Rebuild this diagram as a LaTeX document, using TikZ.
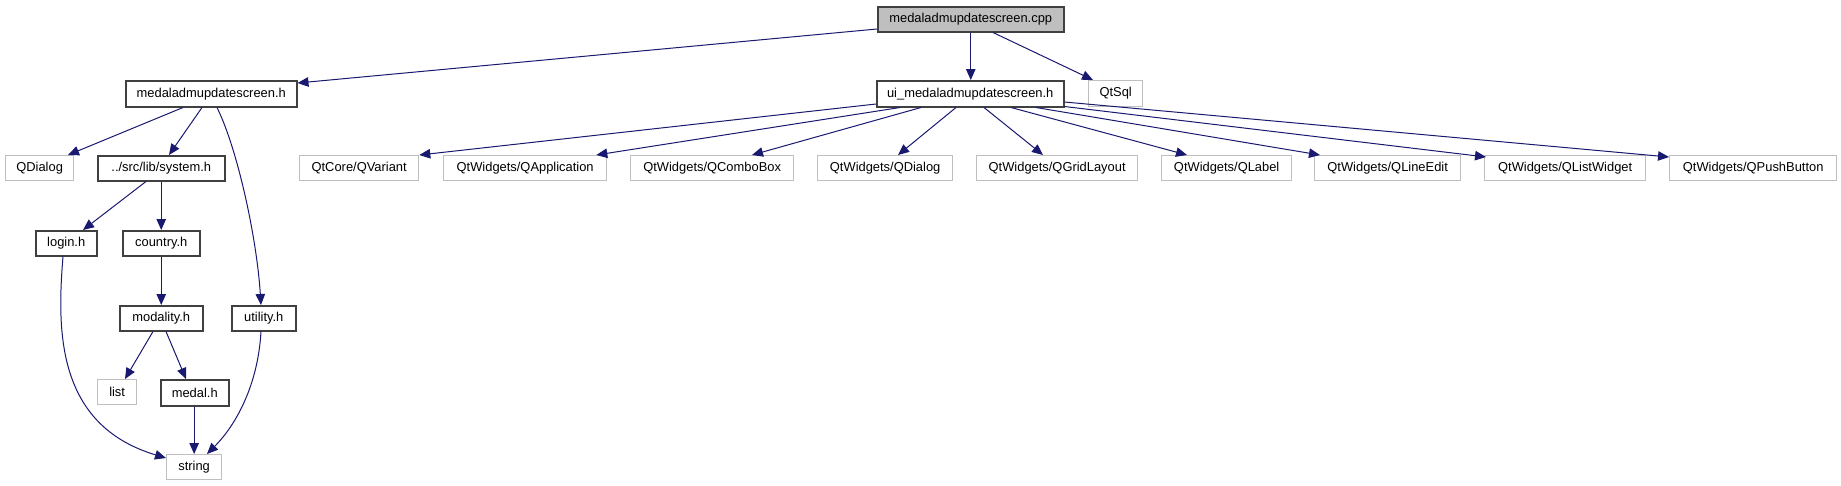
\documentclass[tikz,border=0pt]{standalone}
\usepackage{fontspec}
\setmainfont{Liberation Sans}
\usetikzlibrary{arrows.meta,calc}
\definecolor{edgec}{HTML}{191970}
\definecolor{grayb}{HTML}{BFBFBF}
\tikzset{
  box/.style={draw=black!75, line width=1.5pt, fill=white, inner sep=0pt, font=\fontsize{12.9}{14}\selectfont, anchor=north west},
  extbox/.style={box, draw=grayb, line width=1.3pt},
  rootbox/.style={box, fill=grayb},
  dep/.style={draw=edgec, line width=1pt, -{Triangle[length=11pt,width=9.5pt]}},
}
\newcommand{\bx}[7]{\node[#1, minimum width=#5pt, minimum height=#6pt] (#2) at (#3pt,-#4pt) {#7};}
\begin{document}
\begin{tikzpicture}[x=1pt,y=-1pt]
\useasboundingbox (0,0) rectangle (1841,485);
% nodes: style, name, left, top, width, height, text
\bx{rootbox}{cpp}{877}{6}{186}{25}{medaladmupdatescreen.cpp}
\bx{box}{mh}{125}{80}{171}{26}{medaladmupdatescreen.h}
\bx{box}{ui}{876}{80}{187}{26}{ui\_medaladmupdatescreen.h}
\bx{extbox}{qtsql}{1088}{80}{54}{26}{QtSql}
\bx{extbox}{qdialog}{5}{155}{68}{25}{QDialog}
\bx{box}{sys}{97}{155}{127}{25}{../src/lib/system.h}
\bx{extbox}{qvar}{299}{155}{119}{25}{QtCore/QVariant}
\bx{extbox}{qapp}{443}{155}{163}{25}{QtWidgets/QApplication}
\bx{extbox}{qcombo}{630}{155}{163}{25}{QtWidgets/QComboBox}
\bx{extbox}{qwdialog}{817}{155}{135}{25}{QtWidgets/QDialog}
\bx{extbox}{qgrid}{976}{155}{161}{25}{QtWidgets/QGridLayout}
\bx{extbox}{qlabel}{1161}{155}{130}{25}{QtWidgets/QLabel}
\bx{extbox}{qline}{1314}{155}{146}{25}{QtWidgets/QLineEdit}
\bx{extbox}{qlist}{1484}{155}{161}{25}{QtWidgets/QListWidget}
\bx{extbox}{qpush}{1669}{155}{167}{25}{QtWidgets/QPushButton}
\bx{box}{login}{35}{230}{61}{25}{login.h}
\bx{box}{country}{122}{230}{77}{25}{country.h}
\bx{box}{modality}{119}{305}{83}{25}{modality.h}
\bx{box}{utility}{231}{305}{64}{25}{utility.h}
\bx{extbox}{list}{97}{379}{39}{25}{list}
\bx{box}{medal}{160}{379}{68}{26}{medal.h}
\bx{extbox}{string}{166}{454}{55}{25}{string}
% edges
\draw[dep] ($(cpp.north west)+(0,23)$) -- ($(mh.north east)+(0,3)$);
\draw[dep] (cpp.south) -- (cpp.south |- ui.north);
\draw[dep] ($(cpp.south west)+(116,0)$) -- ($(qtsql.north west)+(5,0)$);
\draw[dep] ($(mh.south west)+(58,0)$) -- ($(qdialog.north west)+(63,0)$);
\draw[dep] ($(mh.south west)+(77,0)$) -- ($(sys.north west)+(72,0)$);
\draw[dep] ($(mh.south west)+(92,0)$) .. controls (238,150) and (257,240) .. ($(utility.north west)+(30,0)$);
\draw[dep] ($(sys.south west)+(49,0)$) -- ($(login.north west)+(48,0)$);
\draw[dep] (sys.south -| country.north) -- (country.north);
\draw[dep] (country.south) -- (country.south |- modality.north);
\draw[dep] ($(modality.south west)+(34,0)$) -- ($(list.north west)+(28,0)$);
\draw[dep] ($(modality.south west)+(47,0)$) -- ($(medal.north west)+(26,0)$);
\draw[dep] (medal.south -| string.north) -- (string.north);
\draw[dep] ($(utility.south west)+(30,0)$) .. controls (258,385) and (236,425) .. ($(string.north west)+(41,0)$);
\draw[dep] ($(login.south west)+(28,0)$) .. controls (57,330) and (56,425) .. ($(string.north west)+(0,4)$);
\draw[dep] ($(ui.north west)+(0,24)$) -- (qvar.north east);
\draw[dep] ($(ui.south west)+(24,0)$) -- ($(qapp.north east)+(-11,0)$);
\draw[dep] ($(ui.south west)+(45,0)$) -- ($(qcombo.north west)+(122,0)$);
\draw[dep] ($(ui.south west)+(80,0)$) -- ($(qwdialog.north west)+(81,0)$);
\draw[dep] ($(ui.south west)+(108,0)$) -- ($(qgrid.north west)+(67,0)$);
\draw[dep] ($(ui.south west)+(135,0)$) -- ($(qlabel.north west)+(26,0)$);
\draw[dep] ($(ui.south west)+(160,0)$) -- ($(qline.north west)+(6,0)$);
\draw[dep] ($(ui.south east)+(0,-1)$) -- ($(qlist.north west)+(2,2)$);
\draw[dep] ($(ui.north east)+(0,22)$) -- ($(qpush.north west)+(0,2)$);
\end{tikzpicture}
\end{document}
